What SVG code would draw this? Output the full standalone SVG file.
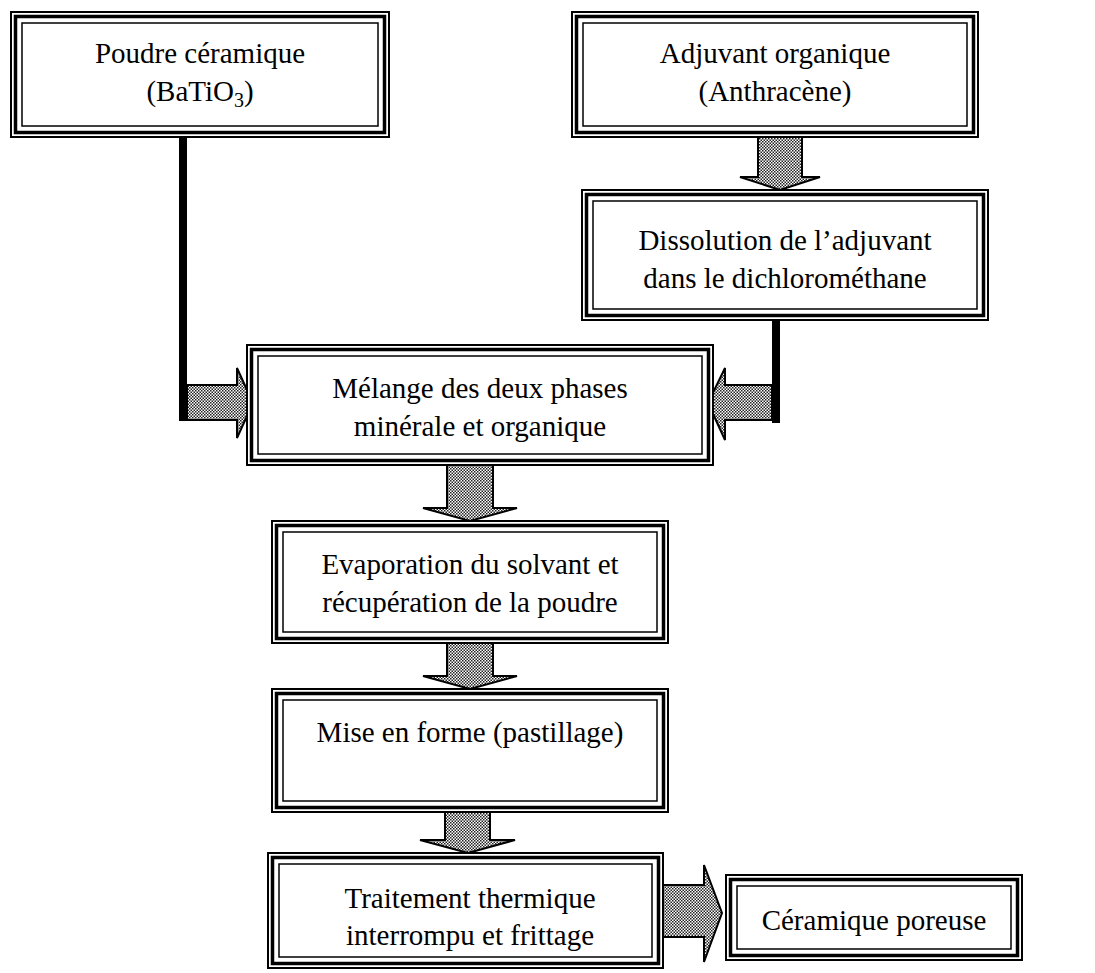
<svg xmlns="http://www.w3.org/2000/svg" width="1095" height="973" viewBox="0 0 1095 973">
<defs>
<pattern id="dots" width="3" height="3" patternUnits="userSpaceOnUse">
<rect width="3" height="3" fill="#fff"/>
<rect width="1.5" height="1.5" fill="#222"/>
<rect x="1.5" y="1.5" width="1.5" height="1.5" fill="#222"/>
</pattern>
</defs>
<style>
.o{fill:#fff;stroke:#000;stroke-width:2}
.m{fill:none;stroke:#000;stroke-width:3.5}
.i{fill:none;stroke:#000;stroke-width:1.5}
.t{font-family:"Liberation Serif","Times New Roman",serif;font-size:29px;fill:#000;text-anchor:middle}
.ar{fill:url(#dots);stroke:#000;stroke-width:2;stroke-linejoin:miter}
.bar{fill:#000}
</style>
<rect width="1095" height="973" fill="#fff"/>

<g id="connectors">
<rect class="bar" x="179" y="137" width="8" height="284"/>
<polygon class="ar" points="187,385 237,385 237,368 253,403 237,438 237,420 187,420"/>
<rect class="bar" x="772" y="320" width="8" height="103"/>
<polygon class="ar" points="772,385 725,385 725,368 708,403 725,440 725,420 772,420"/>
<polygon class="ar" points="758,137 802,137 802,177 820,177 780,190 740,177 758,177"/>
<polygon class="ar" points="447,465 493,465 493,508 517,508 470,521 423,508 447,508"/>
<polygon class="ar" points="447,643 493,643 493,676 517,676 470,689 423,676 447,676"/>
<polygon class="ar" points="445,812 490,812 490,840 515,840 468,853 420,840 445,840"/>
<polygon class="ar" points="663,885 704,885 704,865 722,913 704,962 704,937 663,937"/>
</g>

<g id="n1">
<rect class="o" x="11" y="12" width="378" height="125"/>
<rect class="m" x="15.5" y="16.5" width="369" height="116"/>
<rect class="i" x="22" y="23" width="356" height="103"/>
<text class="t" x="200" y="63">Poudre céramique</text>
<text class="t" x="200" y="101">(BaTiO<tspan dy="6" font-size="20">3</tspan><tspan dy="-6">)</tspan></text>
</g>

<g id="n2">
<rect class="o" x="572" y="12" width="406" height="125"/>
<rect class="m" x="576.5" y="16.5" width="397" height="116"/>
<rect class="i" x="583" y="23" width="384" height="103"/>
<text class="t" x="775" y="63">Adjuvant organique</text>
<text class="t" x="775" y="101">(Anthracène)</text>
</g>

<g id="n3">
<rect class="o" x="582" y="190" width="406" height="130"/>
<rect class="m" x="586.5" y="194.5" width="397" height="121"/>
<rect class="i" x="593" y="201" width="384" height="108"/>
<text class="t" x="785" y="250">Dissolution de l’adjuvant</text>
<text class="t" x="785" y="288">dans le dichlorométhane</text>
</g>

<g id="n4">
<rect class="o" x="247" y="345" width="466" height="120"/>
<rect class="m" x="251.5" y="349.5" width="457" height="111"/>
<rect class="i" x="258" y="356" width="444" height="98"/>
<text class="t" x="480" y="398">Mélange des deux phases</text>
<text class="t" x="480" y="436">minérale et organique</text>
</g>

<g id="n5">
<rect class="o" x="272" y="521" width="396" height="122"/>
<rect class="m" x="276.5" y="525.5" width="387" height="113"/>
<rect class="i" x="283" y="532" width="374" height="100"/>
<text class="t" x="470" y="574">Evaporation du solvant et</text>
<text class="t" x="470" y="612">récupération de la poudre</text>
</g>

<g id="n6">
<rect class="o" x="272" y="689" width="396" height="123"/>
<rect class="m" x="276.5" y="693.5" width="387" height="114"/>
<rect class="i" x="283" y="700" width="374" height="101"/>
<text class="t" x="470" y="742">Mise en forme (pastillage)</text>
</g>

<g id="n7">
<rect class="o" x="268" y="853" width="395" height="115"/>
<rect class="m" x="272.5" y="857.5" width="386" height="106"/>
<rect class="i" x="279" y="864" width="373" height="93"/>
<text class="t" x="470" y="908">Traitement thermique</text>
<text class="t" x="470" y="945">interrompu et frittage</text>
</g>

<g id="n8">
<rect class="o" x="726" y="875" width="296" height="85"/>
<rect class="m" x="730.5" y="879.5" width="287" height="76"/>
<rect class="i" x="737" y="886" width="274" height="63"/>
<text class="t" x="874" y="930">Céramique poreuse</text>
</g>
</svg>
